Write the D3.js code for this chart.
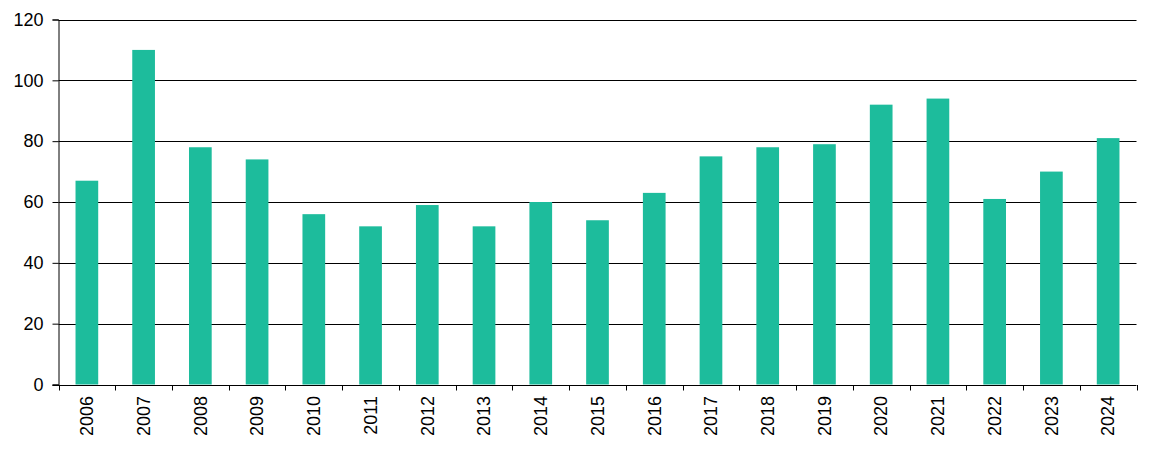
<!DOCTYPE html>
<html>
<head>
<meta charset="utf-8">
<script src="https://cdn.jsdelivr.net/npm/d3@7"></script>
<style>
html,body{margin:0;padding:0;background:#fff;}
svg{display:block;}
text{font-family:"Liberation Sans",Arial,sans-serif;fill:#000;}
</style>
</head>
<body>
<svg id="chart" width="1156" height="460"></svg>
<script>
const categories = ["2006","2007","2008","2009","2010","2011","2012","2013","2014","2015","2016","2017","2018","2019","2020","2021","2022","2023","2024"];
const values = [67,110,78,74,56,52,59,52,60,54,63,75,78,79,92,94,61,70,81];
const yTicks = [0,20,40,60,80,100,120];

const svg = d3.select("#chart");
const m = {left:58.5, right:1136.5, top:19.5, bottom:384.5};

const x = d3.scaleBand().domain(categories).range([m.left, m.right]).padding(0);
const y = d3.scaleLinear().domain([0,120]).range([m.bottom, m.top]);
const barW = x.step()*0.4;

// gridlines
svg.append("g").selectAll("line").data(yTicks.filter(d=>d>0)).join("line")
  .attr("x1", m.left).attr("x2", m.right)
  .attr("y1", d=>Math.round(y(d))+0.5).attr("y2", d=>Math.round(y(d))+0.5)
  .attr("stroke","#000").attr("stroke-width",1);

// bars
svg.append("g").selectAll("rect").data(values).join("rect")
  .attr("x",(d,i)=>x(categories[i]) + (x.step()-barW)/2)
  .attr("width",barW)
  .attr("y",d=>y(d))
  .attr("height",d=>y(0)-y(d))
  .attr("fill","#1dbc9c");

// y axis
const yAxis = svg.append("g").attr("transform",`translate(${m.left},0)`)
  .call(d3.axisLeft(y).tickValues(yTicks).tickSize(6).tickPadding(9));
yAxis.select(".domain").attr("stroke","#000");
yAxis.selectAll(".tick line").attr("stroke","#000");
yAxis.selectAll("text").style("font-size","18px").style("font-family","'Liberation Sans',Arial,sans-serif");

// x axis line and ticks at category boundaries
const xg = svg.append("g");
xg.append("line").attr("x1",m.left-6).attr("x2",m.right).attr("y1",Math.round(y(0))+0.5).attr("y2",Math.round(y(0))+0.5).attr("stroke","#000");
const bounds = categories.map(c=>x(c)).concat([m.right]);
xg.selectAll("line.tk").data(bounds).join("line").attr("class","tk")
  .attr("x1",d=>Math.round(d)+0.5).attr("x2",d=>Math.round(d)+0.5)
  .attr("y1",Math.round(y(0))).attr("y2",Math.round(y(0))+5.5)
  .attr("stroke","#000");

// x labels rotated
xg.selectAll("text").data(categories).join("text")
  .attr("transform",d=>`translate(${x(d)+x.step()/2},396) rotate(-90)`)
  .attr("text-anchor","end")
  .attr("dy","0.35em")
  .style("font-size","18px")
  .text(d=>d);
</script>
</body>
</html>
